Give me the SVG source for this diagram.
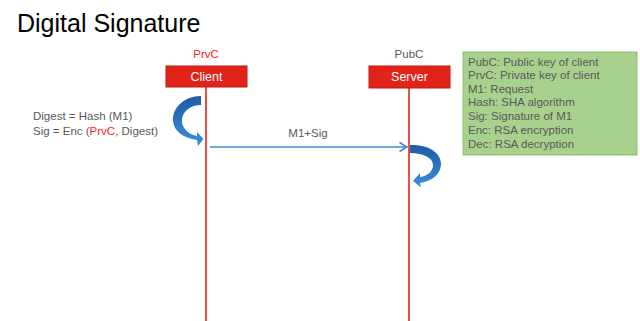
<svg xmlns="http://www.w3.org/2000/svg" width="640" height="321" viewBox="0 0 640 321">
<defs>
<style>
text{font-family:"Liberation Sans",Arial,sans-serif}
.t{font-size:11.5px;fill:#595959}
.red{fill:#ff1a1a}
.box{fill:#e2231a;stroke:#c41a12;stroke-width:1}
.bl{font-size:12.5px;fill:#fff;text-anchor:middle}
.life{stroke:#e2231a;stroke-width:1.6;fill:none}
.msg{stroke:#3c88d4;stroke-width:1.5;fill:none}
</style>
<linearGradient id="g1" x1="0" y1="0" x2="0" y2="1">
<stop offset="0" stop-color="#1d5aa6"/>
<stop offset="1" stop-color="#3c90dc"/>
</linearGradient>
</defs>
<rect width="640" height="321" fill="#fff"/>
<text x="17" y="32" font-size="25" fill="#000">Digital Signature</text>

<g id="client">
<text x="206" y="58" font-size="11.5" class="red" text-anchor="middle">PrvC</text>
<rect class="box" x="166" y="66" width="81" height="21"/>
<text class="bl" x="206.5" y="80.5">Client</text>
<line class="life" x1="206" y1="87" x2="206" y2="321"/>
</g>

<g id="server">
<text x="409" y="58" class="t" text-anchor="middle">PubC</text>
<rect class="box" x="369" y="66" width="81" height="22"/>
<text class="bl" x="409.5" y="81">Server</text>
<line class="life" x1="409" y1="88" x2="409" y2="321"/>
</g>

<g id="legend">
<rect x="463" y="52" width="174" height="103" fill="#a9d18e" stroke="#8dbb6e" stroke-width="1"/>
<text class="t" x="468" y="65.5">PubC: Public key of client</text>
<text class="t" x="468" y="79">PrvC: Private key of client</text>
<text class="t" x="468" y="92.7">M1: Request</text>
<text class="t" x="468" y="106.4">Hash: SHA algorithm</text>
<text class="t" x="468" y="120.1">Sig: Signature of M1</text>
<text class="t" x="468" y="133.8">Enc: RSA encryption</text>
<text class="t" x="468" y="147.5">Dec: RSA decryption</text>
</g>

<g id="client-note">
<text class="t" x="33" y="120">Digest = Hash (M1)</text>
<text class="t" x="33" y="135">Sig = Enc (<tspan class="red">PrvC</tspan>, Digest)</text>
</g>

<g id="connectors">
<path fill="url(#g1)" d="M201,96 C184,96 172,108 173,121 C174,131 183,138 197,140 L198,146 L203.5,139 L197,132 L197,136 C187,134 181,127 182,119 C183,111 191,105 201,105 Z"/>
<line class="msg" x1="210" y1="147" x2="407" y2="147"/>
<polyline class="msg" points="399.5,142.5 407,147 399.5,151.5"/>
<text class="t" x="308" y="137" text-anchor="middle">M1+Sig</text>
<path fill="url(#g1)" d="M410,145 C428,144 442,153 441,165 C440,175 432,181 420,183 L421,187.5 L413,181 L420,173 L420,177 C428,176 433,171 433,165 C433,158 424,153 410,153 Z"/>
</g>
</svg>
